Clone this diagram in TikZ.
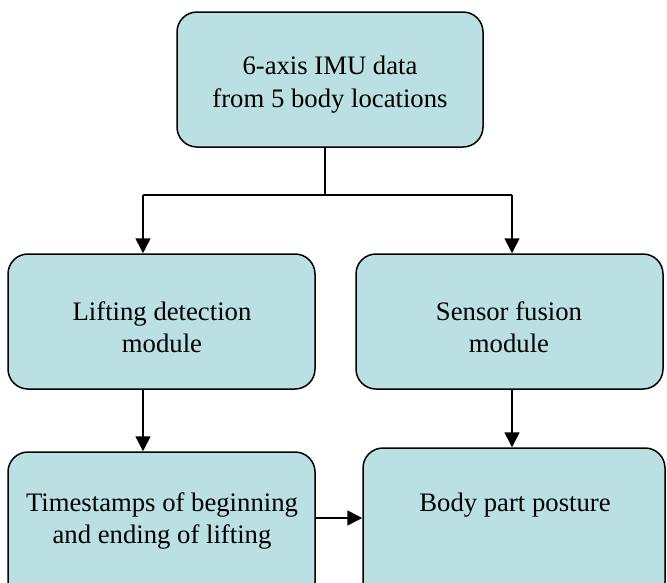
\documentclass[tikz,border=0pt]{standalone}
\usepackage{fontspec}
\setmainfont{Liberation Serif}
\usetikzlibrary{arrows.meta}
\definecolor{boxfill}{RGB}{187,224,227}
\tikzset{
  box/.style={draw=black, line width=1.5pt, fill=boxfill, rounded corners=20pt, inner sep=0pt},
  lbl/.style={align=center, font=\fontsize{26.7}{32.5}\selectfont, inner sep=0pt},
  link/.style={line width=1.6pt},
  arr/.style={link, -{Triangle[length=15pt,width=15pt]}},
}
\begin{document}
\begin{tikzpicture}[x=1pt,y=-1pt]
\useasboundingbox (0,0) rectangle (667,582);
\clip (0,0) rectangle (667,582);

% boxes
\node[box, minimum width=306pt, minimum height=135pt] (imu) at (330,79.5) {};
\node[box, minimum width=307pt, minimum height=135pt] (lift) at (161.5,321.5) {};
\node[box, minimum width=307pt, minimum height=135pt] (fusion) at (509.5,321.5) {};
\node[box, minimum width=307pt, minimum height=150pt] (stamps) at (161.5,527) {};
\node[box, minimum width=302pt, minimum height=154pt] (posture) at (514,525) {};

% labels
\node[lbl] (imutxt) at (330,84.5) {6-axis IMU data\\from 5 body locations};
\node[lbl] (lifttxt) at (162,327) {Lifting detection\\module};
\node[lbl] (fusiontxt) at (509,327) {Sensor fusion\\module};
\node[lbl] (stampstxt) at (162,521) {Timestamps of beginning\\and ending of lifting};
\node[lbl] (posturetxt) at (515,505) {Body part posture};

% connectors
\coordinate (split) at (325,195);
\coordinate (dropL) at (143,195);
\coordinate (dropR) at (512,195);
\coordinate (cross) at (0,518);
\draw[link] (imu.south -| split) -- (split);
\draw[link] (dropL) -- (dropR);
\draw[arr] (dropL) -- (lift.north -| dropL);
\draw[arr] (dropR) -- (fusion.north -| dropR);
\draw[arr] (lift.south -| dropL) -- (stamps.north -| dropL);
\draw[arr] (fusion.south -| dropR) -- (posture.north -| dropR);
\draw[arr] (stamps.east |- cross) -- (posture.west |- cross);
\end{tikzpicture}
\end{document}
